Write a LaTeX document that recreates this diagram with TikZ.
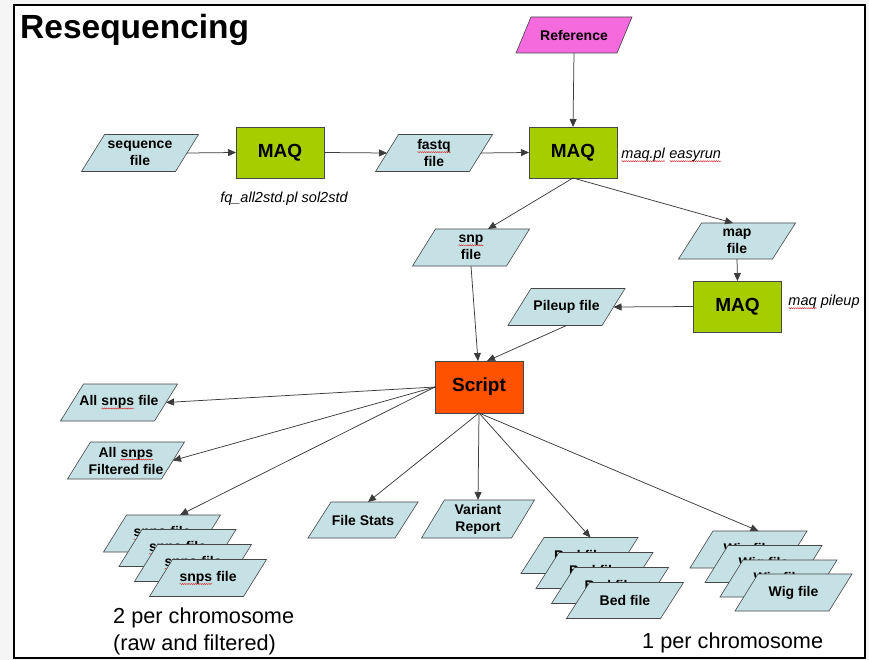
\documentclass[tikz,border=0pt]{standalone}
\usepackage{fontspec}
\setmainfont{Liberation Sans}
\usetikzlibrary{arrows.meta, decorations.pathmorphing}

\definecolor{fileblue}{RGB}{198,225,229}
\definecolor{maqgreen}{RGB}{166,205,0}
\definecolor{scriptorange}{RGB}{255,82,0}
\definecolor{refpink}{RGB}{245,106,220}
\definecolor{edgegray}{RGB}{70,70,70}
\definecolor{linkgray}{RGB}{60,60,60}
\definecolor{spellred}{RGB}{215,40,40}

% parallelogram with a fixed horizontal lean, anchors taken from rectangle
\newdimen\leanamount
\leanamount=23pt
\makeatletter
\pgfdeclareshape{leanbox}{
  \inheritsavedanchors[from=rectangle]
  \inheritanchorborder[from=rectangle]
  \inheritanchor[from=rectangle]{center}
  \inheritanchor[from=rectangle]{base}
  \inheritanchor[from=rectangle]{north}
  \inheritanchor[from=rectangle]{south}
  \inheritanchor[from=rectangle]{east}
  \inheritanchor[from=rectangle]{west}
  \inheritanchor[from=rectangle]{north east}
  \inheritanchor[from=rectangle]{north west}
  \inheritanchor[from=rectangle]{south east}
  \inheritanchor[from=rectangle]{south west}
  \backgroundpath{%
    \southwest \pgf@xa=\pgf@x \pgf@ya=\pgf@y
    \northeast \pgf@xb=\pgf@x \pgf@yb=\pgf@y
    \pgfpathmoveto{\pgfqpoint{\pgf@xa}{\pgf@ya}}%
    \pgf@xc=\pgf@xb \advance\pgf@xc by -\leanamount
    \pgfpathlineto{\pgfqpoint{\pgf@xc}{\pgf@ya}}%
    \pgfpathlineto{\pgfqpoint{\pgf@xb}{\pgf@yb}}%
    \pgf@xc=\pgf@xa \advance\pgf@xc by \leanamount
    \pgfpathlineto{\pgfqpoint{\pgf@xc}{\pgf@yb}}%
    \pgfpathclose
  }
}
\makeatother

% word with a wavy red spell-check underline
\newcommand\spellmark[1]{\tikz[baseline=(sw.base)]{%
  \node[shape=rectangle, draw=none, fill=none, inner sep=0pt, outer sep=0pt,
        minimum width=0pt, minimum height=0pt, align=left] (sw) {#1};
  \draw[spellred, line width=0.45pt, decorate,
        decoration={snake, amplitude=0.55pt, segment length=2.2pt}]
    ([yshift=-2.6pt]sw.base west) -- ([yshift=-2.6pt]sw.base east);}}

\tikzset{
  lean/.code={\pgfmathsetlength\leanamount{#1}},
  datafile/.style={shape=leanbox, lean=23pt, draw=edgegray, line width=0.6pt,
    fill=fileblue, minimum width=117pt, minimum height=37pt, inner sep=1pt,
    outer sep=0pt, align=center, font=\bfseries\fontsize{14}{17}\selectfont},
  maqbox/.style={rectangle, draw=edgegray, line width=0.6pt, fill=maqgreen,
    minimum width=88pt, minimum height=51pt, outer sep=0pt,
    font=\bfseries\fontsize{19}{22}\selectfont},
  note/.style={inner sep=0pt, font=\itshape\fontsize{14.5}{17}\selectfont},
  caption/.style={inner sep=0pt, anchor=base west, font=\fontsize{21.7}{27}\selectfont},
  link/.style={draw=linkgray, line width=0.75pt,
    -{Triangle[length=8pt, width=7pt]}},
}

\begin{document}
\begin{tikzpicture}[x=1pt, y=-1pt]
\useasboundingbox (0,0) rectangle (869,660);
% slide frame
\fill[black!4] (0,0) rectangle (869,660);
\draw[line width=2pt, fill=white] (14,5) rectangle (865,658);

\node[inner sep=0pt, anchor=base west, font=\bfseries\fontsize{33.5}{38}\selectfont]
  (title) at (20,39) {Resequencing};

% alignment stage
\node[datafile, fill=refpink, lean=15pt, minimum width=116pt, minimum height=36pt]
  (ref) at (574,35) {Reference};
\node[datafile] (seq) at (140,153) {sequence\\file};
\node[maqbox] (maq1) at (280,152.5) {MAQ};
\node[datafile] (fastq) at (434,153) {\spellmark{fastq}\\file};
\node[maqbox] (maq2) at (573,152.5) {MAQ};
\node[note] (convnote) at (284,199) {fq\_all2std.pl sol2std};
\node[note, anchor=west] (runnote) at (621,155) {\spellmark{maq.pl} \spellmark{easyrun}};

\node[datafile] (snp) at (471,247.5) {\spellmark{snp}\\file};
\node[datafile, minimum height=36pt] (map) at (737,241) {map\\file};
\node[maqbox] (maq3) at (737.5,306.5) {MAQ};
\node[note, anchor=west] (pilenote) at (788,302) {\spellmark{maq} pileup};
\node[datafile] (pileup) at (566.5,307) {Pileup file};

% post-processing
\node[maqbox, fill=scriptorange, minimum height=52pt] (script) at (479,387) {Script};
\node[datafile] (allsnps) at (119,402.5) {All \spellmark{snps} file};
\node[datafile] (allfilt) at (126,460.5) {All \spellmark{snps}\\Filtered file};
\node[datafile, minimum width=110pt, minimum height=36pt] (stats) at (363,520) {File Stats};
\node[datafile, minimum width=113pt, minimum height=38pt] (variant) at (478,519) {Variant\\Report};

% per-chromosome stacks, back to front
\node[datafile] (snpsA) at (162,533.5) {\spellmark{snps} file};
\node[datafile] (snpsB) at (177.5,548) {\spellmark{snps} file};
\node[datafile] (snpsC) at (193,563) {\spellmark{snps} file};
\node[datafile] (snpsD) at (208,578) {\spellmark{snps} file};

\node[datafile, minimum height=36pt] (bedA) at (579.5,555.5) {Bed file};
\node[datafile, minimum height=36pt] (bedB) at (594.5,570.5) {Bed file};
\node[datafile, minimum height=36pt] (bedC) at (610,585.5) {Bed file};
\node[datafile, minimum height=36pt] (bedD) at (625,600.5) {Bed file};

\node[datafile] (wigA) at (748.5,549.5) {Wig file};
\node[datafile] (wigB) at (763.5,564) {Wig file};
\node[datafile] (wigC) at (778.5,578.5) {Wig file};
\node[datafile] (wigD) at (793.5,592.5) {Wig file};

\node[caption] (cap1) at (113,623) {2 per chromosome};
\node[caption] (cap2) at (113,650) {(raw and filtered)};
\node[caption] (cap3) at (642,648) {1 per chromosome};

% connectors (side midpoints of a lean box sit half a lean inside its east/west)
\draw[link] ([xshift=-11.5pt]seq.east) -- (maq1.west);
\draw[link] (maq1.east) -- ([xshift=11.5pt]fastq.west);
\draw[link] ([xshift=-11.5pt]fastq.east) -- (maq2.west);
\draw[link] (ref.south) -- (maq2.north);
\draw[link] (maq2.south) -- ([xshift=17pt]snp.north);
\draw[link] (maq2.south) -- ([xshift=-4pt]map.north);
\draw[link] (map.south) -- (maq3.north);
\draw[link] (maq3.west) -- ([xshift=-11.5pt]pileup.east);
\draw[link] (snp.south) -- ([xshift=-1pt]script.north);
\draw[link] (pileup.south) -- ([xshift=8pt]script.north);

\draw[link] (script.west) -- ([xshift=-11.5pt]allsnps.east);
\draw[link] (script.west) -- ([xshift=-11.5pt]allfilt.east);
\draw[link] (script.west) -- ([xshift=18pt]snpsA.north);
\draw[link] (script.south) -- ([xshift=5pt]stats.north);
\draw[link] (script.south) -- (variant.north);
\draw[link] (script.south) -- ([xshift=11pt]bedA.north);
\draw[link] (script.south) -- ([xshift=10pt]wigA.north);
\end{tikzpicture}
\end{document}
